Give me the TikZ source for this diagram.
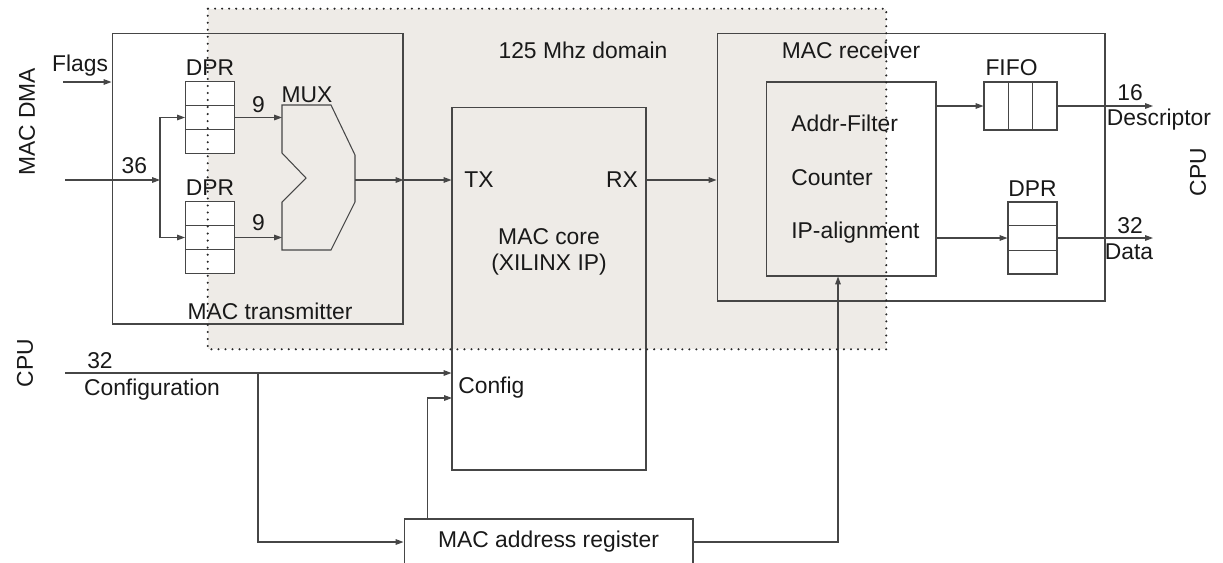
\documentclass[tikz,border=0pt]{standalone}
\usepackage{fontspec}
\setmainfont{Liberation Sans}
\usetikzlibrary{arrows.meta,positioning,calc}
\definecolor{domainbg}{RGB}{238,235,231}
\definecolor{linegray}{RGB}{70,70,70}

\begin{document}
\begin{tikzpicture}[x=0.02cm, y=-0.02cm,
        every node/.style={font=\fontsize{13}{15}\selectfont, text=black!90},
        block/.style={draw=linegray, line width=0.6pt, inner sep=0pt},
        mem/.style={block, fill=white, minimum width=0.98cm, minimum height=1.44cm},
        lbl/.style={inner sep=0pt},
        sig/.style={draw=linegray, line width=0.6pt},
        arr/.style={sig, -{Triangle[length=4.5pt,width=3.2pt]}}]

        \useasboundingbox (0,0) rectangle (1223,562);

        % 125 Mhz clock domain
        \node[fill=domainbg, inner sep=0pt, minimum width=13.56cm, minimum height=6.8cm] (domain) at (547,179) {};
        \node[lbl] (domlbl) at (583,50) {125 Mhz domain};

        % transmitter side
        \node[block, minimum width=5.82cm, minimum height=5.82cm] (txbox) at (257.5,178.5) {};
        \node[lbl] (txlbl) at (270,311) {MAC transmitter};
        \node[mem] (dpra) at (210,117.5) {};
        \node[mem] (dprb) at (210,237.5) {};
        \node[lbl, above=1mm of dpra] (dpralbl) {DPR};
        \node[lbl, above=1mm of dprb] (dprblbl) {DPR};
        \draw[sig] (282,105) -- (331,105) -- (355,155) -- (355,202) -- (331,250) -- (282,250) -- (282,202) -- (306,178) -- (282,153) -- cycle;
        \node[lbl] (muxlbl) at (307,95) {MUX};
        \coordinate (muxina) at (282,117.5);
        \coordinate (muxinb) at (282,237.5);
        \coordinate (muxout) at (355,180);

        \node[lbl, rotate=90] (dmalbl) at (27,122) {MAC DMA};
        \node[lbl] (flagslbl) at (80,66) {Flags};
        \coordinate (flagsin) at (63,82);
        \coordinate (dmain) at (65,180);
        \coordinate (split) at (160,180);

        % MAC core
        \node[block, minimum width=3.88cm, minimum height=7.26cm] (core) at (549,288.5) {};
        \node[lbl] (txport) at (479,180) {TX};
        \node[lbl] (rxport) at (622,180) {RX};
        \node[lbl] (corelbl) at (549,237) {MAC core};
        \node[lbl] (iplbl) at (549,265) {(XILINX IP)};
        \node[lbl, anchor=west] (cfgport) at (458,388) {Config};

        % receiver side
        \node[block, minimum width=7.76cm, minimum height=5.36cm] (rxbox) at (911,167) {};
        \node[lbl] (rxlbl) at (851,50) {MAC receiver};
        \node[block, minimum width=3.4cm, minimum height=3.88cm] (filt) at (851,179) {};
        \node[lbl, anchor=base west] (filtlbl) at (791,131) {Addr-Filter};
        \node[lbl, anchor=base west] (cntlbl) at (791,185) {Counter};
        \node[lbl, anchor=base west] (alnlbl) at (791,238) {IP-alignment};
        \node[block, fill=white, minimum width=1.46cm, minimum height=0.96cm] (fifo) at (1020.5,106) {};
        \node[lbl, above=1mm of fifo, xshift=-0.18cm] (fifolbl) {FIFO};
        \node[mem] (dprc) at (1032.5,238) {};
        \node[lbl, above=1mm of dprc] (dprclbl) {DPR};
        \coordinate (descout) at (1153,106);
        \coordinate (dataout) at (1153,238);
        \node[lbl] at (1130,93) {16};
        \node[lbl] at (1159,120) {Descriptor};
        \node[lbl] at (1130,226) {32};
        \node[lbl] at (1129,252) {Data};
        \node[lbl, rotate=90] (cpuright) at (1198,172) {CPU};

        % configuration path
        \node[lbl, rotate=90] (cpuleft) at (25,363) {CPU};
        \node[lbl] at (100,361) {32};
        \node[lbl] at (152,390) {Configuration};
        \coordinate (cfgin) at (65,373);
        \coordinate (cfgsplit) at (258,373);
        \coordinate (cfgb) at (452,398);
        \node[block, minimum width=5.78cm, minimum height=0.92cm] (addr) at (548.5,542) {MAC address register};

        % connections
        \draw[arr] (flagsin) -- (flagsin -| txbox.west);
        \draw[arr] (dmain) -- node[lbl, pos=0.73, above=3.5pt] {36} (split);
        \draw[arr] (split) |- (dpra.west);
        \draw[arr] (split) |- (dprb.west);
        \draw[arr] (dpra.east) -- node[lbl, above=2.5pt] {9} (muxina);
        \draw[arr] (dprb.east) -- node[lbl, above=3.5pt] {9} (muxinb);
        \draw[arr] (muxout) -- (muxout -| txbox.east);
        \draw[arr] (muxout -| txbox.east) -- (muxout -| core.west);
        \draw[arr] (core.east |- muxout) -- (rxbox.west |- muxout);
        \draw[arr] (fifo.west -| filt.east) -- (fifo.west);
        \draw[arr] (dprc.west -| filt.east) -- (dprc.west);
        \draw[arr] (fifo.east) -- (descout);
        \draw[arr] (dprc.east) -- (dataout);
        \draw[arr] (cfgin) -- (cfgin -| core.west);
        \draw[arr] (cfgsplit) |- (addr.west);
        \draw[arr] ($(addr.north west)+(24,0)$) |- (cfgb);
        \draw[arr] (addr.east) -| ($(filt.south)+(-13,0)$);

        % memory rows
        \foreach \n in {dpra,dprb,dprc} {
            \foreach \f in {0.333,0.667}
                \draw[sig] ($(\n.north west)!\f!(\n.south west)$) -- ($(\n.north east)!\f!(\n.south east)$);
        }
        \foreach \f in {0.333,0.667}
            \draw[sig] ($(fifo.north west)!\f!(fifo.north east)$) -- ($(fifo.south west)!\f!(fifo.south east)$);

        % domain border
        \draw[black!85, line width=1.3pt, line cap=round, dash pattern=on 0pt off 4pt] (domain.north west) rectangle (domain.south east);
    \end{tikzpicture}
\end{document}
